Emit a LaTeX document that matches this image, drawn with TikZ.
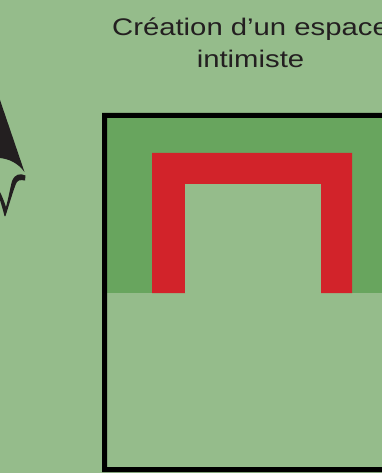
\documentclass[tikz,border=0pt]{standalone}
\usepackage{fontspec}
\setmainfont{Liberation Sans}
\newfontfamily\widefont[FakeStretch=1.22]{Liberation Sans}
\definecolor{bgc}{HTML}{95BC8B}
\definecolor{gc}{HTML}{68A55E}
\definecolor{rc}{HTML}{D2232A}
\definecolor{kc}{HTML}{231F20}
\begin{document}
\begin{tikzpicture}[x=1pt,y=-1pt,
  titletext/.style={text=kc,font=\widefont\fontsize{24}{24}\selectfont,anchor=base,inner sep=0pt}]
\useasboundingbox (0,0) rectangle (382,473);
\clip (0,0) rectangle (382,473);
\fill[bgc] (0,0) rectangle (382,473);
\fill[gc] (107,118) rectangle (382,293);
\fill[rc] (152,153) -- (352,153) -- (352,293) -- (321,293) -- (321,184) -- (185,184) -- (185,293) -- (152,293) -- cycle;
\fill[bgc] (185,184) rectangle (321,293);
\fill[black] (102,113) -- (382,113) -- (382,118) -- (107,118) -- (107,467) -- (382,467) -- (382,472) -- (102,472) -- cycle;
\node[titletext] (t1) at (250.5,35.5) {Création d’un espace};
\node[titletext] (t2) at (250.5,67.5) {intimiste};
\fill[kc] (0,100) -- (24.5,172) .. controls (18,163) and (9,159) .. (0,158) -- cycle;
\fill[kc] (25.5,175.5) .. controls (20,173) and (15,174) .. (12,181) .. controls (10,189) and (8.5,198) .. (6,207) .. controls (4,201) and (2,196) .. (0,192) -- (0,200) .. controls (1.5,205) and (3,210) .. (4.5,216) -- (5.5,216) .. controls (9,205) and (12.5,193) .. (15.5,185) .. controls (17,180) and (20,179.5) .. (25,180.5) -- cycle;
\end{tikzpicture}
\end{document}
